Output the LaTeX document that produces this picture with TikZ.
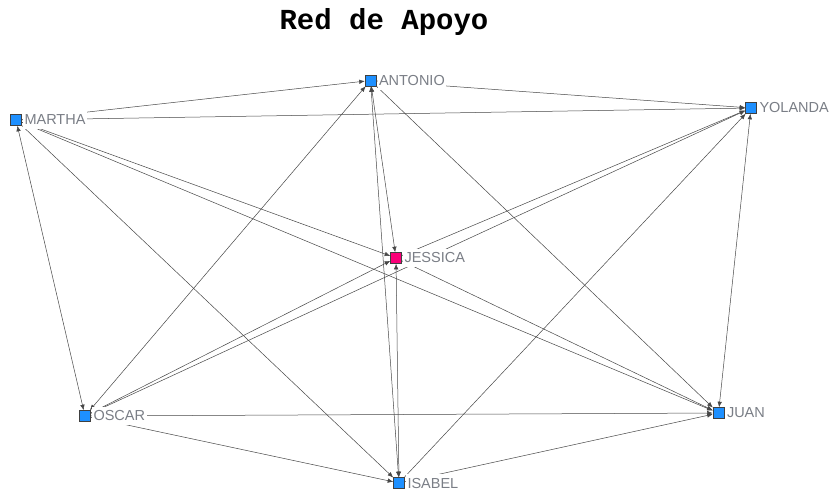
\documentclass[tikz,border=0pt]{standalone}
\usepackage{fontspec}
\setmainfont{Liberation Sans}
\newfontfamily\titlefont{Liberation Mono}
\usetikzlibrary{arrows.meta}
\definecolor{nodeblue}{RGB}{30,144,255}
\definecolor{nodepink}{RGB}{250,0,120}
\definecolor{labelgray}{RGB}{122,126,134}
\begin{document}
\begin{tikzpicture}[x=1pt,y=-1pt,
  vert/.style={draw=black!75, fill=nodeblue, minimum size=11pt, inner sep=0pt, line width=0.6pt},
  ego/.style={vert, fill=nodepink},
  lbl/.style={anchor=west, fill=white, text=labelgray, font=\fontsize{14.5}{16}\selectfont, inner xsep=1.5pt, inner ysep=4pt},
  tie/.style={draw=black!72, line width=0.5pt, -{Latex[length=5.5pt,width=4.5pt]}},
  mutual/.style={tie, {Latex[length=5.5pt,width=4.5pt]}-{Latex[length=5.5pt,width=4.5pt]}}]
\useasboundingbox (0,0) rectangle (833,491);
\fill[white] (0,0) rectangle (833,491);
\node[anchor=base, font=\titlefont\bfseries\fontsize{29}{30}\selectfont] (title) at (384,29) {Red de Apoyo};
% vertices
\node[vert] (MARTHA)  at (16,120) {};
\node[vert] (ANTONIO) at (370.5,80.5) {};
\node[vert] (YOLANDA) at (751,108) {};
\node[ego]  (JESSICA) at (396,258) {};
\node[vert] (OSCAR)   at (85,416) {};
\node[vert] (JUAN)    at (718.5,413) {};
\node[vert] (ISABEL)  at (399,483) {};
% ties
\draw[tie] (MARTHA) -- (ANTONIO);
\draw[tie] (MARTHA) -- (YOLANDA);
\draw[mutual] (MARTHA) -- (OSCAR);
\draw[tie] (MARTHA) -- (JESSICA);
\draw[tie] (MARTHA) -- (JUAN);
\draw[tie] (MARTHA) -- (ISABEL);
\draw[tie] (ANTONIO) -- (YOLANDA);
\draw[mutual] (ANTONIO) -- (JESSICA);
\draw[mutual] (ANTONIO) -- (ISABEL);
\draw[mutual] (ANTONIO) -- (OSCAR);
\draw[tie] (ANTONIO) -- (JUAN);
\draw[mutual] (YOLANDA) -- (JUAN);
\draw[tie] (JESSICA) -- (YOLANDA);
\draw[tie] (OSCAR) -- (YOLANDA);
\draw[tie] (ISABEL) -- (YOLANDA);
\draw[tie] (OSCAR) -- (JESSICA);
\draw[mutual] (ISABEL) -- (JESSICA);
\draw[tie] (JESSICA) -- (JUAN);
\draw[tie] (OSCAR) -- (JUAN);
\draw[tie] (OSCAR) -- (ISABEL);
\draw[tie] (ISABEL) -- (JUAN);
% labels
\node[lbl] (lMARTHA)  at ([xshift=1pt]MARTHA.east)  {MARTHA};
\node[lbl] (lANTONIO) at ([xshift=1pt]ANTONIO.east) {ANTONIO};
\node[lbl] (lYOLANDA) at ([xshift=1pt]YOLANDA.east) {YOLANDA};
\node[lbl] (lJESSICA) at ([xshift=1pt]JESSICA.east) {JESSICA};
\node[lbl] (lOSCAR)   at ([xshift=1pt]OSCAR.east)   {OSCAR};
\node[lbl] (lJUAN)    at ([xshift=1pt]JUAN.east)    {JUAN};
\node[lbl] (lISABEL)  at ([xshift=1pt]ISABEL.east)  {ISABEL};
\end{tikzpicture}
\end{document}
